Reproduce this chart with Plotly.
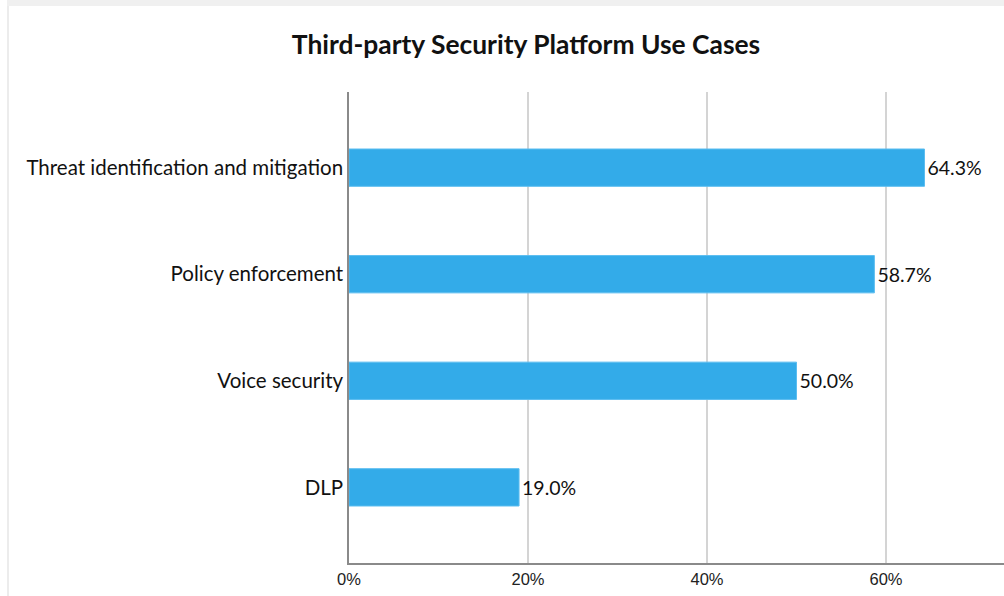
import plotly.graph_objects as go

categories = ["DLP", "Voice security", "Policy enforcement", "Threat identification and mitigation"]
values = [19.0, 50.0, 58.7, 64.3]
labels = ["19.0%", "50.0%", "58.7%", "64.3%"]
tick_vals = [0, 20, 40, 60]
tick_text = ["0%", "20%", "40%", "60%"]

# plot area in pixels
L, R, T, B = 349, 1004, 92, 563
W, H = R - L, B - T

def px(x):
    return (x - L) / W

def py(y):
    return (B - y) / H

fig = go.Figure()
fig.add_trace(go.Bar(
    y=categories, x=values, orientation="h",
    marker=dict(color="#33ABE9", line=dict(color="#5BBDF0", width=1)),
    width=0.35,
    text=labels, textposition="outside",
    textfont=dict(family="Lato", size=19.5, color="#111111"),
    cliponaxis=False,
))

fig.update_layout(
    width=1004, height=596,
    margin=dict(l=L, r=1004 - R, t=T, b=596 - B),
    paper_bgcolor="white", plot_bgcolor="white",
    showlegend=False,
    title=dict(text="<b>Third-party Security Platform Use Cases</b>",
               font=dict(family="Lato", size=26.4, color="#111111"),
               x=526/1004, xref="container", xanchor="center",
               y=1-45/596, yref="container", yanchor="middle"),
    xaxis=dict(range=[0, 655/8.95], tickvals=tick_vals, ticktext=tick_text,
               showgrid=True, gridcolor="#d4d4d4", gridwidth=1.5,
               showline=True, linecolor="#8a8a8a", linewidth=1.5,
               zeroline=False, ticks="",
               tickfont=dict(family="Liberation Sans", size=16.5, color="#222222")),
    yaxis=dict(range=[-0.71, 3.71], showgrid=False,
               showline=True, linecolor="#8a8a8a", linewidth=1.5,
               ticks="", zeroline=False,
               tickfont=dict(family="Lato", size=20.5, color="#111111")),
    shapes=[
        dict(type="rect", xref="paper", yref="paper",
             x0=px(7), x1=px(1004), y0=py(6), y1=py(0),
             fillcolor="#f0f0f0", line=dict(width=0), layer="below"),
        dict(type="rect", xref="paper", yref="paper",
             x0=px(7), x1=px(9), y0=py(596), y1=py(6),
             fillcolor="#ececec", line=dict(width=0), layer="below"),
    ],
)

fig.write_html("out.html", config={"displayModeBar": False},
               post_script="document.body.style.margin='0';document.body.style.padding='0';")
